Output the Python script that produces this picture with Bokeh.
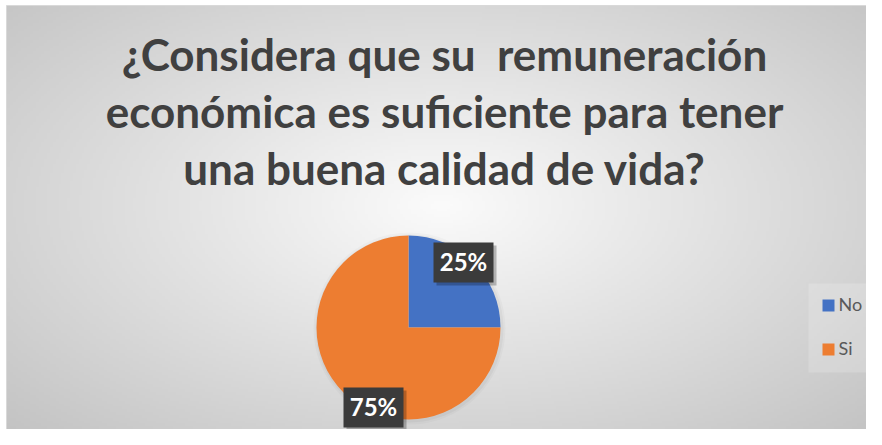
import numpy as np
from bokeh.plotting import figure
from bokeh.models import Range1d, ColumnDataSource
from bokeh.core.properties import value
from bokeh.embed import file_html
from bokeh.resources import INLINE

# ---- data ----
categories = ["No", "Si"]
values = [25, 75]
colors = ["#4472C4", "#ED7D31"]
title_lines = [
    "¿Considera que su  remuneración",
    "económica es suficiente para tener",
    "una buena calidad de vida?",
]

# ---- layout (reference pixel coordinates, 1:1 with screen) ----
W, H = 866, 429
REF_H = 445


def Y(y):
    return REF_H - y


def BL(y, fs):
    # baseline compensation for text rendering
    return Y(y - 0.45 * fs)


p = figure(width=W, height=H, output_backend="svg", toolbar_location=None,
           x_range=Range1d(0, W), y_range=Range1d(REF_H - H, REF_H),
           min_border=0)
p.axis.visible = False
p.grid.visible = False
p.outline_line_color = None
p.background_fill_color = "white"
p.border_fill_color = "white"

# background radial gradient (chart area)
ax0, ax1, ay0, ay1 = 6, W, 5, H
gw, gh = 300, 150
xs = np.linspace(ax0, ax1, gw)
ys = np.linspace(ay1, ay0, gh)  # row 0 = bottom
XX, YY = np.meshgrid(xs, ys)
d = np.sqrt(((XX - 441) / 441) ** 2 + ((YY - 205) / 230) ** 2)
g = np.clip(251 - 40 * d, 180, 255).astype(np.uint8)
img = np.empty((gh, gw), dtype=np.uint32)
view = img.view(dtype=np.uint8).reshape((gh, gw, 4))
view[:, :, 0] = g
view[:, :, 1] = g
view[:, :, 2] = g
view[:, :, 3] = 255
p.image_rgba(image=[img], x=ax0, y=Y(ay1), dw=ax1 - ax0, dh=ay1 - ay0)
p.quad(left=[ax0], right=[ax1 + 2], bottom=[Y(ay1) - 2], top=[Y(ay0)],
       fill_color=None, line_color="#d9d9d9", line_width=1)

# title
tfs = 44
p.text(x=[444] * 3, y=[BL(73, tfs), BL(130, tfs), BL(187, tfs)],
       text=[t.replace("  ", " \u00a0") for t in title_lines],
       text_font=value("Lato"), text_font_size=f"{tfs}px", text_font_style="bold",
       text_color="#404040", text_align="center", text_baseline="alphabetic")

# pie
vals = np.array(values, dtype=float)
frac = vals / vals.sum()
cum = np.concatenate([[0], np.cumsum(frac)[:-1]])
start = np.pi / 2 - cum * 2 * np.pi
end = start - frac * 2 * np.pi
cx, cy, r = 408, Y(327), 92

# soft shadow
for k, a in [(4, 0.025), (2, 0.035)]:
    p.circle(x=[cx + 1], y=[cy - 1], radius=r + k, radius_units="screen",
             fill_color="black", fill_alpha=a, line_color=None)

src = ColumnDataSource(dict(cat=categories, start=start, end=end, color=colors))
p.wedge(x=cx, y=cy, radius=r, radius_units="screen", start_angle="start", end_angle="end",
        direction="clock", fill_color="color", line_color=None, source=src)

# data labels
label_x = [463, 373]
label_y = [262, 407]
labels = [f"{int(v)}%" for v in values]
lfs = 24
p.rect(x=[x + 3 for x in label_x], y=[Y(y) - 3 for y in label_y], width=60, height=40,
       fill_color="black", fill_alpha=0.25, line_color=None)
p.rect(x=label_x, y=[Y(y) for y in label_y], width=60, height=40,
       fill_color="#3b3b3b", line_color=None)
p.text(x=label_x, y=[BL(y + 10, lfs) for y in label_y], text=labels,
       text_font=value("Lato"), text_font_size=f"{lfs}px", text_font_style="bold",
       text_color="white", text_align="center", text_baseline="alphabetic")

# legend
p.quad(left=[808], right=[W], bottom=[Y(372)], top=[Y(283)],
       fill_color="white", fill_alpha=0.18, line_color=None)
leg_y = [305, 349]
gfs = 18
p.rect(x=[828] * 2, y=[Y(y) for y in leg_y], width=12, height=12,
       fill_color=colors, line_color=None)
p.text(x=[838] * 2, y=[BL(y + 7, gfs) for y in leg_y], text=categories,
       text_font=value("Lato"), text_font_size=f"{gfs}px",
       text_color="#595959", text_align="left", text_baseline="alphabetic")

open("out.html", "w").write(file_html(p, INLINE))
